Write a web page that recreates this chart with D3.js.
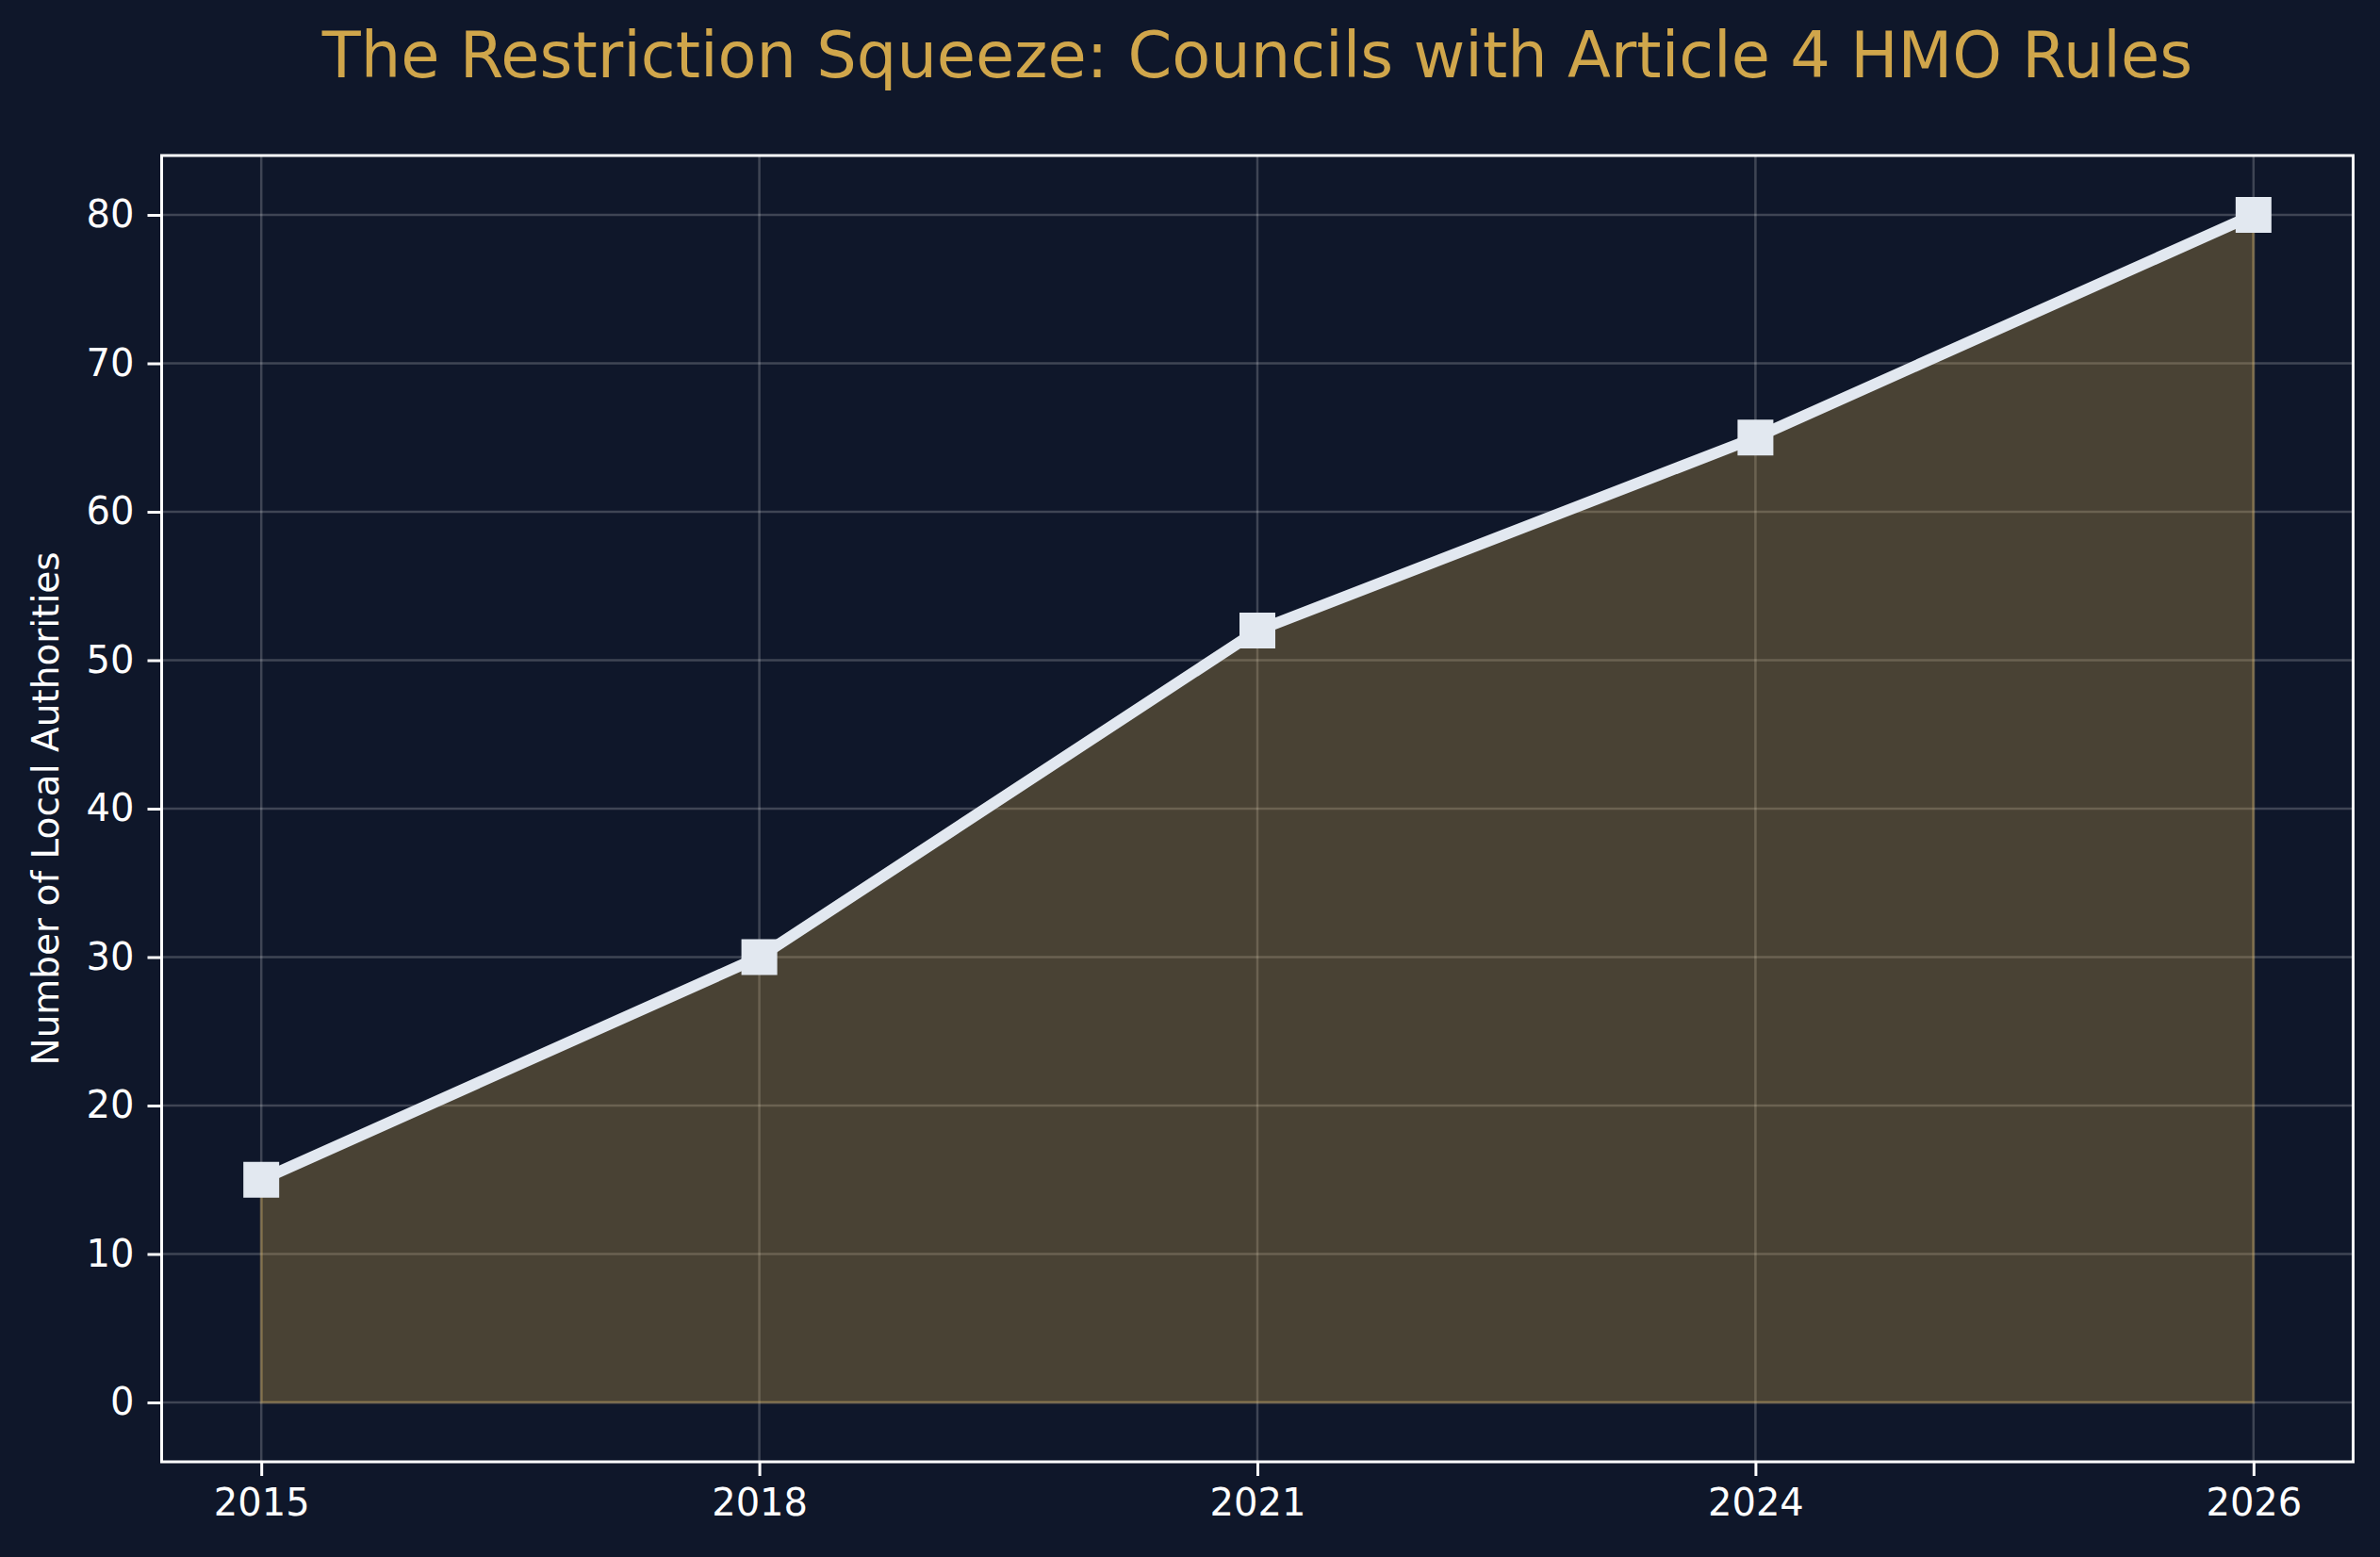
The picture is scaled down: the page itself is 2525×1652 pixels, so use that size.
<!DOCTYPE html>
<html>
<head>
<meta charset="utf-8">
<script src="https://cdn.jsdelivr.net/npm/d3@7"></script>
<style>
  html, body { margin: 0; padding: 0; background: #0f172a; }
  svg { display: block; font-family: "DejaVu Sans", sans-serif; }
</style>
</head>
<body>
<div id="chart"></div>
<script>
// data
const years = ['2015', '2018', '2021', '2024', '2026'];
const councils = [15, 30, 52, 65, 80];
const yTicks = [0, 10, 20, 30, 40, 50, 60, 70, 80];
const titleText = 'The Restriction Squeeze: Councils with Article 4 HMO Rules';
const yLabel = 'Number of Local Authorities';

const config = {
  width: 2525,
  height: 1652,
  margin: { left: 171.5, top: 165, right: 28.5, bottom: 101 }
};

const bg = '#0f172a';
const gold = '#d0a64b';
const lineColor = '#e2e8f0';

const svg = d3.select('#chart')
  .append('svg')
  .attr('width', config.width)
  .attr('height', config.height);

svg.append('rect')
  .attr('width', config.width)
  .attr('height', config.height)
  .attr('fill', bg);

const x0 = config.margin.left;
const x1 = config.width - config.margin.right;
const y0 = config.margin.top;
const y1 = config.height - config.margin.bottom;

// years sit at even steps (categorical positions), 5% padding like matplotlib
const n = years.length;
const xPad = (n - 1) * 0.05;
const yPad = d3.max(councils) * 0.05;

const xscale = d3.scaleLinear()
  .domain([0 - xPad, n - 1 + xPad])
  .range([x0, x1]);

const yscale = d3.scaleLinear()
  .domain([0 - yPad, d3.max(councils) + yPad])
  .range([y1, y0]);

const idx = d3.range(n);
const points = idx.map(i => ({ i: i, value: councils[i] }));

// grid
const grid = svg.append('g');
grid.selectAll('line.gx')
  .data(idx)
  .enter()
  .append('line')
  .attr('x1', d => xscale(d))
  .attr('x2', d => xscale(d))
  .attr('y1', y0)
  .attr('y2', y1)
  .attr('stroke', '#ffffff')
  .attr('stroke-opacity', 0.2)
  .attr('stroke-width', 2.5);
grid.selectAll('line.gy')
  .data(yTicks)
  .enter()
  .append('line')
  .attr('x1', x0)
  .attr('x2', x1)
  .attr('y1', d => yscale(d))
  .attr('y2', d => yscale(d))
  .attr('stroke', '#ffffff')
  .attr('stroke-opacity', 0.2)
  .attr('stroke-width', 2.5);

// filled area
const area = d3.area()
  .x(d => xscale(d.i))
  .y0(yscale(0))
  .y1(d => yscale(d.value));

svg.append('path')
  .datum(points)
  .attr('d', area)
  .attr('fill', gold)
  .attr('fill-opacity', 0.3)
  .attr('stroke', gold)
  .attr('stroke-opacity', 0.3)
  .attr('stroke-width', 3);

// line
const line = d3.line()
  .x(d => xscale(d.i))
  .y(d => yscale(d.value));

svg.append('path')
  .datum(points)
  .attr('d', line)
  .attr('fill', 'none')
  .attr('stroke', lineColor)
  .attr('stroke-width', 12)
  .attr('stroke-linejoin', 'round');

// square markers
const ms = 38;
svg.selectAll('rect.marker')
  .data(points)
  .enter()
  .append('rect')
  .attr('class', 'marker')
  .attr('x', d => xscale(d.i) - ms / 2)
  .attr('y', d => yscale(d.value) - ms / 2)
  .attr('width', ms)
  .attr('height', ms)
  .attr('fill', lineColor);

// axes
const xAxis = d3.axisBottom(xscale)
  .tickValues(idx)
  .tickFormat(i => years[i])
  .tickSize(15)
  .tickPadding(14);

const yAxis = d3.axisLeft(yscale)
  .tickValues(yTicks)
  .tickSize(15)
  .tickPadding(14);

const gx = svg.append('g')
  .attr('transform', `translate(0,${y1})`)
  .call(xAxis);
const gy = svg.append('g')
  .attr('transform', `translate(${x0},0)`)
  .call(yAxis);

[gx, gy].forEach(g => {
  g.select('.domain').remove();
  g.selectAll('.tick line').attr('stroke', '#ffffff').attr('stroke-width', 3);
  g.selectAll('.tick text')
    .attr('fill', '#ffffff')
    .style('font-size', '40px')
    .style('font-family', '"DejaVu Sans", sans-serif');
});
gx.selectAll('.tick text').attr('dy', '0.71em');

// frame
svg.append('rect')
  .attr('x', x0)
  .attr('y', y0)
  .attr('width', x1 - x0)
  .attr('height', y1 - y0)
  .attr('fill', 'none')
  .attr('stroke', '#ffffff')
  .attr('stroke-width', 3);

// title
svg.append('text')
  .attr('x', (x0 + x1) / 2)
  .attr('y', 82)
  .attr('text-anchor', 'middle')
  .attr('fill', gold)
  .style('font-size', '67px')
  .text(titleText);

// y label
svg.append('text')
  .attr('transform', `translate(62,${(y0 + y1) / 2}) rotate(-90)`)
  .attr('text-anchor', 'middle')
  .attr('fill', '#ffffff')
  .style('font-size', '39px')
  .text(yLabel);
</script>
</body>
</html>
